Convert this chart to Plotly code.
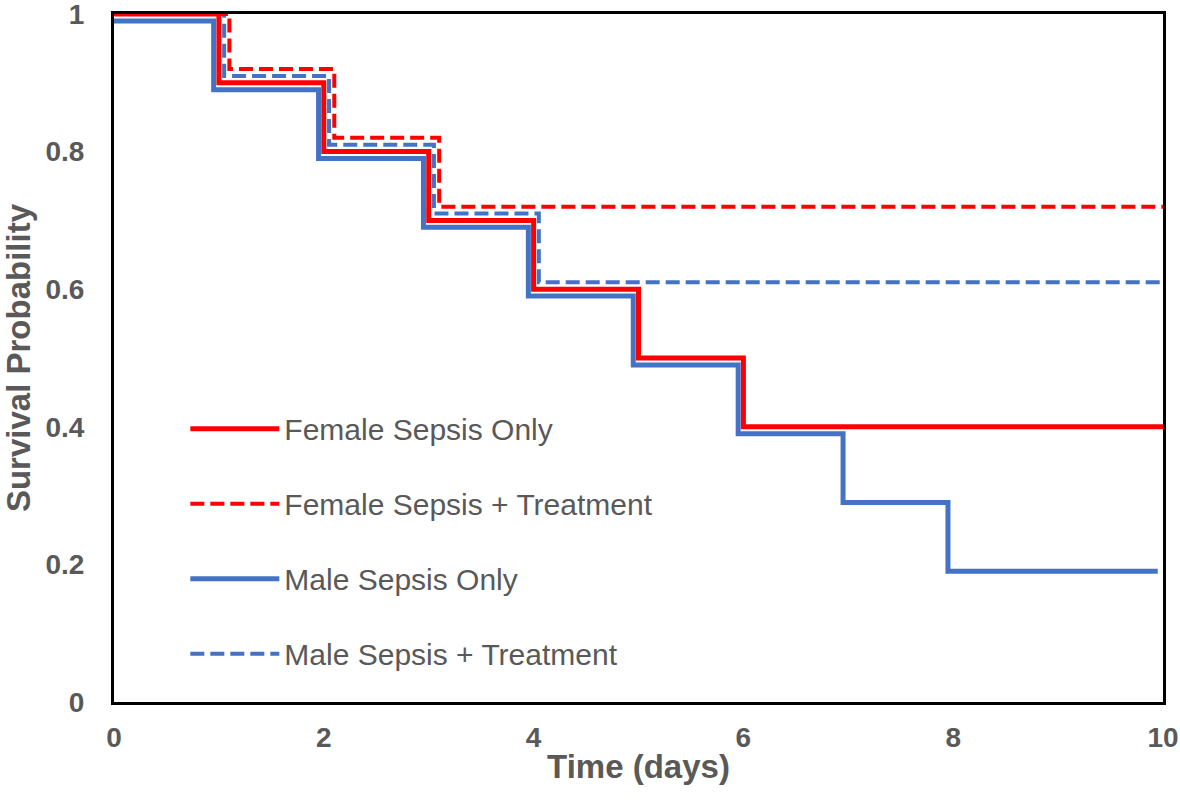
import plotly.graph_objects as go

# Data
female_only_t = [0, 1.0, 2.0, 3.0, 4.0, 5.0, 6.0, 10.0]
female_only_s = [1.0, 0.90, 0.80, 0.70, 0.60, 0.50, 0.40, 0.40]

female_treat_t = [0, 1.1, 2.1, 3.1, 10.0]
female_treat_s = [1.0, 0.92, 0.82, 0.72, 0.72]

male_only_t = [0, 0.95, 1.95, 2.95, 3.95, 4.95, 5.95, 6.95, 7.95, 9.95]
male_only_s = [0.99, 0.89, 0.79, 0.69, 0.59, 0.49, 0.39, 0.29, 0.19, 0.19]

male_treat_t = [0, 1.05, 2.05, 3.05, 4.05, 10.0]
male_treat_s = [1.0, 0.91, 0.81, 0.71, 0.61, 0.61]

x_ticks = [0, 2, 4, 6, 8, 10]
y_ticks = [0, 0.2, 0.4, 0.6, 0.8, 1]

RED = "#FF0000"
BLUE = "#4472C4"
GREY = "#595959"
FONT = "Liberation Sans, Arial, sans-serif"
DASH = "14px,6px"

fig = go.Figure()
# draw order: male treat, male only, female treat, female only (female on top)
fig.add_trace(go.Scatter(x=male_treat_t, y=male_treat_s, mode="lines", line_shape="hv",
                         name="Male Sepsis + Treatment", legendgroup="d", legendrank=4,
                         line=dict(color=BLUE, width=4, dash=DASH)))
fig.add_trace(go.Scatter(x=male_only_t, y=male_only_s, mode="lines", line_shape="hv",
                         name="Male Sepsis Only", legendgroup="c", legendrank=3,
                         line=dict(color=BLUE, width=5)))
fig.add_trace(go.Scatter(x=female_treat_t, y=female_treat_s, mode="lines", line_shape="hv",
                         name="Female Sepsis + Treatment", legendgroup="b", legendrank=2,
                         line=dict(color=RED, width=4, dash=DASH)))
fig.add_trace(go.Scatter(x=female_only_t, y=female_only_s, mode="lines", line_shape="hv",
                         name="Female Sepsis Only", legendgroup="a", legendrank=1,
                         line=dict(color=RED, width=5)))

fig.update_layout(
    width=1180, height=804,
    margin=dict(l=114, r=17, t=14, b=102, autoexpand=False),
    paper_bgcolor="white", plot_bgcolor="white",
    font=dict(family=FONT, color=GREY),
    legend=dict(
        x=0.068, y=0.435, xanchor="left", yanchor="top",
        bgcolor="rgba(0,0,0,0)", borderwidth=0,
        font=dict(family=FONT, size=30, color=GREY),
        itemwidth=89, tracegroupgap=33, traceorder="grouped",
    ),
    xaxis=dict(
        range=[0, 10], tickvals=x_ticks, showgrid=False, zeroline=False,
        showline=True, linecolor="black", linewidth=3, mirror=True,
        ticks="outside", ticklen=8, tickcolor="rgba(0,0,0,0)",
        automargin=False, ticklabeloverflow="allow",
        tickfont=dict(family=FONT, size=28, color=GREY, weight="bold"),
        title=dict(text="Time (days)", standoff=4,
                   font=dict(family=FONT, size=33, color=GREY, weight="bold")),
    ),
    yaxis=dict(
        range=[0, 1], tickvals=y_ticks, showgrid=False, zeroline=False,
        showline=True, linecolor="black", linewidth=3, mirror=True,
        ticks="outside", ticklen=21, tickcolor="rgba(0,0,0,0)",
        automargin=False, ticklabeloverflow="allow",
        tickfont=dict(family=FONT, size=28, color=GREY, weight="bold"),
        title=dict(text="Survival Probability", standoff=10,
                   font=dict(family=FONT, size=33, color=GREY, weight="bold")),
    ),
)

fig.write_html(
    "out.html",
    config={"displayModeBar": False},
    post_script="document.body.style.margin='0';document.body.style.padding='0';",
)
